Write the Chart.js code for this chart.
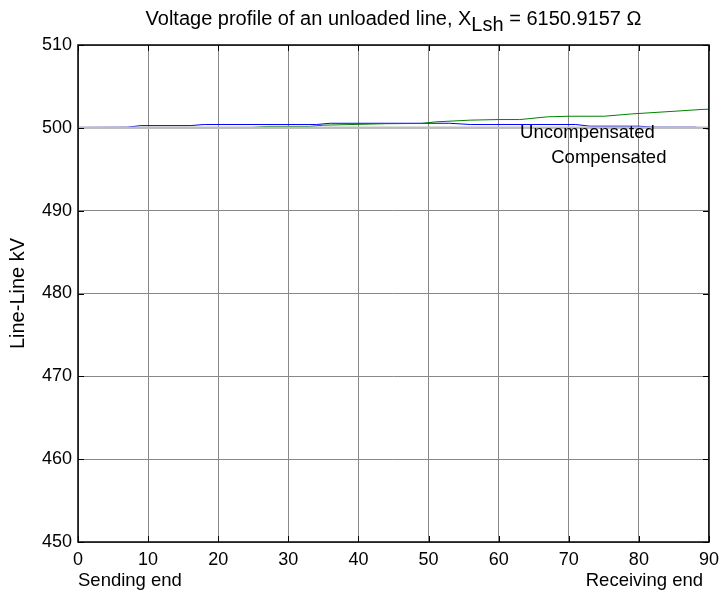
<!DOCTYPE html>
<html>
<head>
<meta charset="utf-8">
<script src="https://cdn.jsdelivr.net/npm/chart.js@4/dist/chart.umd.min.js"></script>
<style>
  body { margin: 0; background: #fff; }
  #wrap { width: 726px; height: 594px; }
</style>
</head>
<body>
<div id="wrap"><canvas id="canvas" width="726" height="594"></canvas></div>
<script>
// values (distance along line, kV)
const uncompX = [0, 7, 9, 16, 18, 34, 36, 53, 56, 71, 73, 80, 82, 88, 90];
const uncompY = [500.05, 500.08, 500.27, 500.27, 500.4, 500.4, 500.55, 500.55, 500.4, 500.4, 500.2, 500.2, 500.08, 500.08, 499.85];
const compX = [0, 24, 27, 33, 35, 44, 49, 51, 56, 60, 63, 67, 70, 75, 79, 85, 89, 90];
const compY = [500.0, 500.0, 500.17, 500.17, 500.32, 500.5, 500.53, 500.72, 500.93, 501.0, 501.0, 501.33, 501.4, 501.4, 501.68, 502.0, 502.22, 502.25];
const nominalX = [0, 90];
const nominalY = [500, 500];
const xTicks = [0, 10, 20, 30, 40, 50, 60, 70, 80, 90];
const yTicks = [450, 460, 470, 480, 490, 500, 510];

const FONT = 'Arial, "Liberation Sans", sans-serif';

const pts = (xs, ys) => xs.map((x, i) => ({x: x, y: ys[i]}));

const frame = {
    id: 'frame',
    afterDraw(chart) {
        const ctx = chart.ctx;
        const a = chart.chartArea;
        const xs = chart.scales.x, ys = chart.scales.y;
        ctx.save();
        // box
        ctx.strokeStyle = '#000';
        ctx.lineWidth = 1.5;
        ctx.strokeRect(a.left, a.top, a.right - a.left, a.bottom - a.top);
        // inner tick marks
        ctx.lineWidth = 1;
        xTicks.forEach(v => {
            const p = Math.round(xs.getPixelForValue(v)) + 0.5;
            ctx.beginPath();
            ctx.moveTo(p, a.bottom); ctx.lineTo(p, a.bottom - 6);
            ctx.moveTo(p, a.top); ctx.lineTo(p, a.top + 6);
            ctx.stroke();
        });
        yTicks.forEach(v => {
            const p = Math.round(ys.getPixelForValue(v)) + 0.5;
            ctx.beginPath();
            ctx.moveTo(a.left, p); ctx.lineTo(a.left + 6, p);
            ctx.moveTo(a.right, p); ctx.lineTo(a.right - 6, p);
            ctx.stroke();
        });
        // title with subscript
        ctx.fillStyle = '#000';
        ctx.textBaseline = 'alphabetic';
        const f1 = '20px ' + FONT, f2 = '20px ' + FONT;
        const s1 = 'Voltage profile of an unloaded line, X', s2 = 'Lsh', s3 = ' = 6150.9157 \u03A9';
        ctx.font = f1;
        const w1 = ctx.measureText(s1).width, w3 = ctx.measureText(s3).width;
        ctx.font = f2;
        const w2 = ctx.measureText(s2).width;
        let x0 = (a.left + a.right) / 2 - (w1 + w2 + w3) / 2;
        const base = 25;
        ctx.font = f1; ctx.textAlign = 'left';
        ctx.fillText(s1, x0, base);
        ctx.font = f2;
        ctx.fillText(s2, x0 + w1, base + 6);
        ctx.font = f1;
        ctx.fillText(s3, x0 + w1 + w2, base);
        // curve labels
        ctx.font = '18.5px ' + FONT;
        ctx.textBaseline = 'middle';
        ctx.fillText('Uncompensated', xs.getPixelForValue(63.05), ys.getPixelForValue(499.4));
        ctx.fillText('Compensated', xs.getPixelForValue(67.5), ys.getPixelForValue(496.4));
        // end labels
        ctx.textAlign = 'left';
        ctx.fillText('Sending end', a.left, 581);
        ctx.textAlign = 'right';
        ctx.fillText('Receiving end', 703, 581);
        // y label
        ctx.translate(18, (a.top + a.bottom) / 2);
        ctx.rotate(-Math.PI / 2);
        ctx.textAlign = 'center';
        ctx.font = '20px ' + FONT;
        ctx.fillText('Line-Line kV', 0, 0);
        ctx.restore();
    }
};

const myChart = new Chart(
    document.getElementById('canvas'),
    {
        type: 'line',
        data: {
            datasets: [
                {
                    label: 'Nominal',
                    data: pts(nominalX, nominalY),
                    borderColor: '#bdbdbd',
                    borderWidth: 2.5,
                    pointRadius: 0,
                    fill: false
                },
                {
                    label: 'Compensated',
                    data: pts(compX, compY),
                    borderColor: '#008000',
                    borderWidth: 1,
                    pointRadius: 0,
                    fill: false
                },
                {
                    label: 'Uncompensated',
                    data: pts(uncompX, uncompY),
                    borderColor: '#0000ff',
                    borderWidth: 1,
                    pointRadius: 0,
                    fill: false
                }
            ]
        },
        options: {
            responsive: false,
            animation: false,
            layout: { padding: { left: 0, right: 12, top: 45, bottom: 0 } },
            plugins: {
                legend: { display: false },
                tooltip: { enabled: false },
                title: { display: false }
            },
            scales: {
                x: {
                    type: 'linear',
                    min: 0, max: 90,
                    afterBuildTicks: s => { s.ticks = xTicks.map(v => ({value: v})); },
                    afterFit: s => { s.height = 52; },
                    border: { display: false },
                    grid: { color: '#888', borderDash: [1, 2], drawTicks: false, lineWidth: 1 },
                    ticks: { color: '#000', font: { family: FONT, size: 18 }, padding: 7, maxRotation: 0 }
                },
                y: {
                    type: 'linear',
                    min: 450, max: 510,
                    afterBuildTicks: s => { s.ticks = yTicks.map(v => ({value: v})); },
                    afterFit: s => { s.width = 78; },
                    border: { display: false },
                    grid: { color: '#888', borderDash: [1, 2], drawTicks: false, lineWidth: 1 },
                    ticks: { color: '#000', font: { family: FONT, size: 18 }, padding: 6 }
                }
            }
        },
        plugins: [frame]
    }
);
</script>
</body>
</html>
